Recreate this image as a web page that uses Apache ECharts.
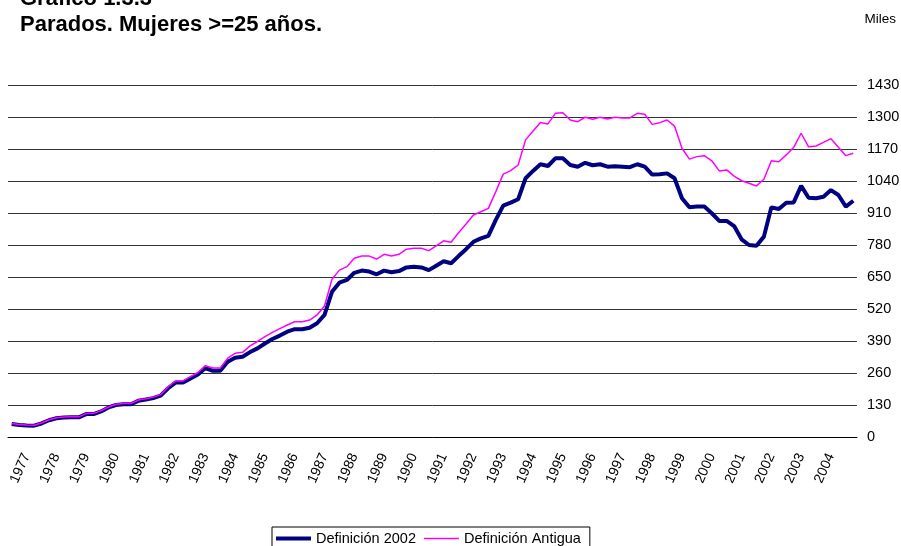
<!DOCTYPE html>
<html>
<head>
<meta charset="utf-8">
<script src="https://cdn.jsdelivr.net/npm/echarts@6/dist/echarts.min.js"></script>
<style>
  html, body { margin: 0; padding: 0; background: #fff; }
  #chart { width: 901px; height: 546px; }
</style>
</head>
<body>
<div id="chart"></div>
<script>
// años mostrados en el eje (datos trimestrales)
const years = [1977, 1978, 1979, 1980, 1981, 1982, 1983, 1984, 1985, 1986, 1987, 1988, 1989, 1990,
  1991, 1992, 1993, 1994, 1995, 1996, 1997, 1998, 1999, 2000, 2001, 2002, 2003, 2004];
const quarters = ["I", "II", "III", "IV"];
const nPoints = 114;

// Definición 2002 (miles)
const def2002 = [
  53, 49, 47, 46, 55, 68, 76, 79, 80, 80, 93, 93, 104, 120, 130, 133, 133, 147, 152, 158,
  168, 198, 221, 221, 238, 254, 280, 269, 269, 306, 322, 326, 345, 360, 380, 398, 412, 428, 438, 438,
  444, 462, 496, 590, 627, 638, 667, 676, 672, 661, 676, 669, 674, 689, 692, 689, 678, 696, 714, 706,
  735, 763, 793, 807, 817, 882, 940, 952, 966, 1051, 1081, 1108, 1101, 1132, 1132, 1105, 1098, 1114, 1104, 1108,
  1098, 1100, 1098, 1096, 1108, 1098, 1066, 1067, 1071, 1051, 970, 933, 936, 936, 909, 878, 878, 857, 803, 780,
  777, 814, 933, 926, 952, 953, 1020, 972, 970, 976, 1003, 983, 936, 960
];

// Definición Antigua (miles)
const defAntigua = [
  55, 51, 49, 48, 57, 70, 78, 81, 82, 82, 95, 96, 107, 122, 133, 136, 136, 150, 155, 162,
  172, 204, 228, 228, 245, 262, 290, 280, 280, 320, 340, 344, 370, 388, 408, 425, 440, 455, 468, 468,
  475, 496, 532, 641, 678, 692, 726, 735, 735, 723, 742, 735, 742, 763, 767, 767, 757, 776, 797, 791,
  830, 865, 902, 915, 929, 997, 1068, 1082, 1105, 1207, 1243, 1278, 1272, 1315, 1317, 1288, 1281, 1299, 1291, 1299,
  1292, 1299, 1296, 1296, 1315, 1311, 1270, 1277, 1288, 1263, 1173, 1129, 1139, 1143, 1122, 1081, 1085, 1060, 1041, 1031,
  1020, 1047, 1122, 1118, 1146, 1177, 1234, 1179, 1182, 1197, 1212, 1177, 1143, 1153
];

// categorías trimestrales a partir de los años
const categories = [];
for (let y = years[0]; categories.length < nPoints; y++) {
  for (let q = 0; q < 4 && categories.length < nPoints; q++) {
    categories.push(y + " " + quarters[q]);
  }
}

const font = "Arial, 'Liberation Sans', sans-serif";
const chart = echarts.init(document.getElementById("chart"));
chart.setOption({
  animation: false,
  textStyle: { fontFamily: font },
  title: [
    {
      text: "Gráfico 1.3.3",
      left: 15,
      top: -17,
      textStyle: { fontSize: 22, fontWeight: "bold", color: "#000", fontFamily: font }
    },
    {
      text: "Parados. Mujeres >=25 años.",
      left: 15,
      top: 9,
      textStyle: { fontSize: 22, fontWeight: "bold", color: "#000", fontFamily: font }
    },
    {
      text: "Miles",
      right: 0,
      top: 7,
      textStyle: { fontSize: 13.5, fontWeight: "normal", color: "#000", fontFamily: font }
    }
  ],
  legend: {
    left: 272,
    top: 527,
    orient: "horizontal",
    borderColor: "#000",
    borderWidth: 1,
    padding: [4, 9, 6, 4],
    itemWidth: 35,
    itemHeight: 12,
    itemGap: 8,
    textStyle: { fontSize: 14.5, color: "#000", fontFamily: font },
    data: [
      { name: "Definición 2002", icon: "path://M0,0M35,12M0,4H35V8H0Z" },
      { name: "Definición Antigua", icon: "path://M0,0M35,12M0,5.2H35V6.8H0Z" }
    ]
  },
  grid: {
    left: 8,
    right: 44,
    top: 85,
    bottom: 109,
    containLabel: false,
    outerBoundsMode: "none"
  },
  xAxis: {
    type: "category",
    boundaryGap: true,
    data: categories,
    axisLine: { lineStyle: { color: "#000", width: 1 } },
    axisTick: {
      interval: (i) => i % 4 === 0,
      length: 5,
      lineStyle: { color: "#000" }
    },
    axisLabel: {
      interval: (i) => i % 4 === 2,
      rotate: 66,
      margin: 17,
      fontSize: 14,
      color: "#000",
      fontFamily: font,
      formatter: (v) => v.slice(0, 4)
    },
    splitLine: { show: false }
  },
  yAxis: {
    type: "value",
    position: "right",
    min: 0,
    max: 1430,
    interval: 130,
    axisLine: { show: false },
    axisTick: { show: false },
    axisLabel: {
      margin: 10,
      fontSize: 14.5,
      color: "#000",
      fontFamily: font,
      formatter: (v) => String(v)
    },
    splitLine: { lineStyle: { color: "#333", width: 1 } }
  },
  series: [
    {
      name: "Definición 2002",
      type: "line",
      data: def2002,
      symbol: "none",
      lineStyle: { color: "#000080", width: 4 },
      itemStyle: { color: "#000080" }
    },
    {
      name: "Definición Antigua",
      type: "line",
      data: defAntigua,
      symbol: "none",
      lineStyle: { color: "#ff00ff", width: 1.5 },
      itemStyle: { color: "#ff00ff" }
    }
  ]
});
</script>
</body>
</html>
